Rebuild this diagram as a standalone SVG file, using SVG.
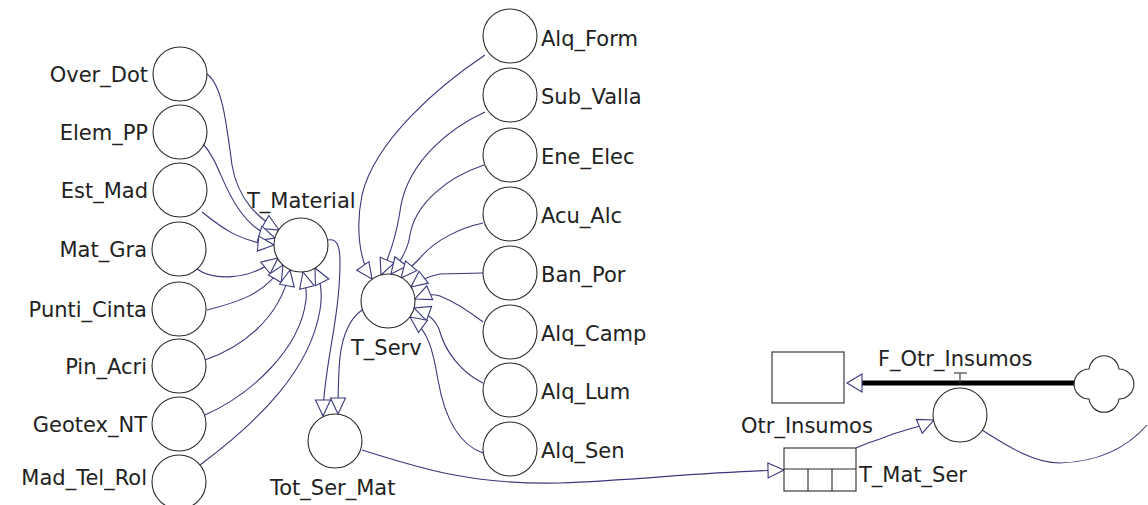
<svg xmlns="http://www.w3.org/2000/svg" width="1148" height="505" viewBox="0 0 1148 505">
<style>
.node circle, .node rect { fill: #ffffff; stroke: #2a2a2a; stroke-width: 1.1; }
.lbl { font-family: "DejaVu Sans", Verdana, sans-serif; font-size: 21px; fill: #222222; }
.end { text-anchor: end; }
.conn path { fill: none; stroke: #38387a; stroke-width: 1.1; marker-end: url(#arr); }
.conn path.plain { marker-end: none; }
</style>
<defs>
<marker id="arr" markerUnits="userSpaceOnUse" markerWidth="20" markerHeight="20" viewBox="0 0 20 20" refX="17.5" refY="10" orient="auto">
<path d="M1.5,2.5 L17.5,10 L1.5,17.5 Z" fill="#ffffff" stroke="#38387a" stroke-width="1.1"/>
</marker>
</defs>
<rect x="0" y="0" width="1148" height="505" fill="#ffffff"/>

<g class="conn" id="connectors">
<path d="M207,74 C222,85 226,120 232,165 C238,200 258,218 279,230"/>
<path d="M203,144 C218,160 222,185 238,208 C250,226 262,234 275,238"/>
<path d="M202,212 C222,228 240,242 274,245"/>
<path d="M197,269 C212,280 248,282 278,258"/>
<path d="M207,310 C235,303 265,295 283,265"/>
<path d="M205,360 C240,348 280,320 290,270"/>
<path d="M205,415 C250,395 300,350 306,300 C307,290 305,280 303,272"/>
<path d="M200,465 C260,420 310,370 320,310 C323,292 320,278 315,268"/>
<path d="M328,240 C337,238 340,246 340,262 C340,320 323,370 323,416"/>
<path d="M362,310 C345,322 340,345 339,370 C338,390 338,405 338,414"/>
<path d="M485,55 C440,85 375,140 362,195 C355,230 360,262 372,279"/>
<path d="M485,112 C450,128 410,160 401,205 C396,240 388,258 381,275"/>
<path d="M484,165 C445,178 415,205 410,235 C408,250 398,265 391,274"/>
<path d="M483,223 C460,228 435,240 420,258 C412,266 406,272 401,278"/>
<path d="M483,273 L440,274 C430,276 420,280 411,287"/>
<path d="M483,322 C470,312 455,302 440,296 C430,293 422,296 415,299"/>
<path d="M483,383 C460,372 445,350 440,332 C436,318 425,312 414,308"/>
<path d="M483,453 C460,445 445,420 438,380 C433,350 428,330 410,317"/>
<path d="M362,450 C420,468 470,485 560,483 C640,480 700,472 784,470"/>
<path d="M856,448 L868,443 L880,439 L893,434 L906,430 L920,426 L934,420"/>
<path class="plain" d="M982,430 C1010,448 1035,463 1060,463 C1095,462 1125,450 1147,425"/>
</g>

<g id="flow-F_Otr_Insumos">
<line x1="860" y1="383" x2="1075" y2="383" stroke="#000000" stroke-width="5"/>
<polygon points="847,383 862,374 862,392" fill="#ffffff" stroke="#38387a" stroke-width="1.1"/>
<line x1="960" y1="373" x2="960" y2="383" stroke="#444444" stroke-width="1.2"/>
<line x1="954" y1="373" x2="967" y2="373" stroke="#444444" stroke-width="1.2"/>
</g>

<g id="cloud" class="node">
<path d="M1089.1,369 A15,15 0 0 1 1118.9,369 A15,15 0 0 1 1118.9,399 A15,15 0 0 1 1089.1,399 A15,15 0 0 1 1089.1,369 Z" fill="#ffffff" stroke="#2a2a2a" stroke-width="1.1"/>
</g>

<g id="Over_Dot" class="node"><circle cx="180" cy="74" r="27"/><text class="lbl end" x="148" y="82">Over_Dot</text></g>
<g id="Elem_PP" class="node"><circle cx="180" cy="132" r="27"/><text class="lbl end" x="148" y="140">Elem_PP</text></g>
<g id="Est_Mad" class="node"><circle cx="180" cy="190" r="27"/><text class="lbl end" x="148" y="198">Est_Mad</text></g>
<g id="Mat_Gra" class="node"><circle cx="179" cy="249" r="27"/><text class="lbl end" x="147" y="257">Mat_Gra</text></g>
<g id="Punti_Cinta" class="node"><circle cx="179" cy="309" r="27"/><text class="lbl end" x="147" y="317">Punti_Cinta</text></g>
<g id="Pin_Acri" class="node"><circle cx="179" cy="366" r="27"/><text class="lbl end" x="147" y="374">Pin_Acri</text></g>
<g id="Geotex_NT" class="node"><circle cx="179" cy="424" r="27"/><text class="lbl end" x="147" y="432">Geotex_NT</text></g>
<g id="Mad_Tel_Rol" class="node"><circle cx="179" cy="482" r="27"/><text class="lbl end" x="147" y="485">Mad_Tel_Rol</text></g>

<g id="T_Material" class="node"><circle cx="301" cy="245" r="27"/><text class="lbl" x="247" y="208">T_Material</text></g>
<g id="T_Serv" class="node"><circle cx="388" cy="301" r="27"/><text class="lbl" x="351" y="355">T_Serv</text></g>
<g id="Tot_Ser_Mat" class="node"><circle cx="335" cy="441" r="27"/><text class="lbl" x="270" y="495">Tot_Ser_Mat</text></g>

<g id="Alq_Form" class="node"><circle cx="510" cy="36" r="27"/><text class="lbl" x="541" y="46">Alq_Form</text></g>
<g id="Sub_Valla" class="node"><circle cx="510" cy="95" r="27"/><text class="lbl" x="541" y="104">Sub_Valla</text></g>
<g id="Ene_Elec" class="node"><circle cx="510" cy="155" r="27"/><text class="lbl" x="541" y="164">Ene_Elec</text></g>
<g id="Acu_Alc" class="node"><circle cx="510" cy="214" r="27"/><text class="lbl" x="541" y="223">Acu_Alc</text></g>
<g id="Ban_Por" class="node"><circle cx="510" cy="273" r="27"/><text class="lbl" x="541" y="282">Ban_Por</text></g>
<g id="Alq_Camp" class="node"><circle cx="510" cy="332" r="27"/><text class="lbl" x="541" y="341">Alq_Camp</text></g>
<g id="Alq_Lum" class="node"><circle cx="510" cy="390" r="27"/><text class="lbl" x="541" y="399">Alq_Lum</text></g>
<g id="Alq_Sen" class="node"><circle cx="510" cy="449" r="27"/><text class="lbl" x="541" y="458">Alq_Sen</text></g>

<g id="Otr_Insumos" class="node"><rect x="772" y="352" width="72" height="51"/><text class="lbl" x="741" y="433">Otr_Insumos</text></g>
<g id="F_Otr_Insumos" class="node"><circle cx="960" cy="415" r="27"/><text class="lbl" x="878" y="366">F_Otr_Insumos</text></g>
<g id="T_Mat_Ser" class="node"><rect x="784" y="448" width="72" height="43"/>
<line x1="784" y1="469" x2="856" y2="469" stroke="#2a2a2a" stroke-width="1.1"/>
<line x1="808" y1="469" x2="808" y2="491" stroke="#2a2a2a" stroke-width="1.1"/>
<line x1="832" y1="469" x2="832" y2="491" stroke="#2a2a2a" stroke-width="1.1"/>
<text class="lbl" x="859" y="482">T_Mat_Ser</text></g>
</svg>
